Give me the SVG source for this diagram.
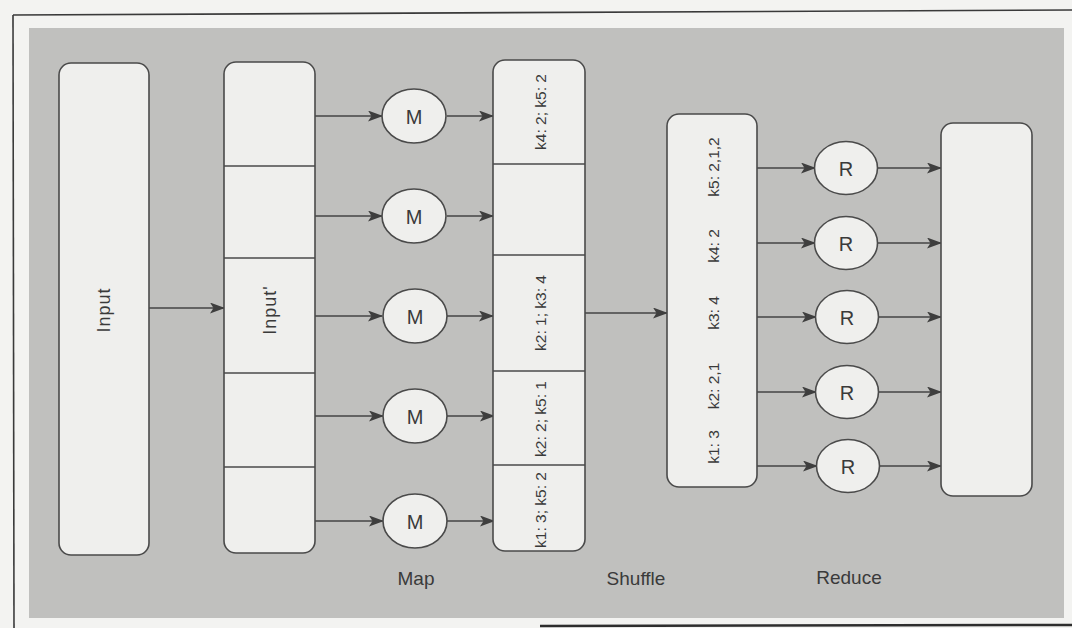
<svg xmlns="http://www.w3.org/2000/svg" width="1072" height="628" viewBox="0 0 1072 628">
  <defs>
    <marker id="ah" markerWidth="15" markerHeight="11" refX="14" refY="5.5" orient="auto" markerUnits="userSpaceOnUse">
      <path d="M0,0 L15,5.5 L0,11 L3.5,5.5 Z" fill="#3e3e3e"/>
    </marker>
    <style>
      .box { fill: #efefed; stroke: #4a4a4a; stroke-width: 1.6; }
      .div { stroke: #4a4a4a; stroke-width: 1.6; }
      .node { fill: #efefed; stroke: #4a4a4a; stroke-width: 1.6; }
      .edge { stroke: #454545; stroke-width: 1.6; fill: none; marker-end: url(#ah); }
      .lbl { font-family: "Liberation Sans", Arial, sans-serif; fill: #3a3a3a; text-anchor: middle; dominant-baseline: central; }
      .big { font-size: 18px; letter-spacing: 1px; }
      .kv { font-size: 15.5px; }
      .op { font-size: 20px; }
      .stage { font-family: "Liberation Sans", Arial, sans-serif; fill: #3a3a3a; text-anchor: middle; font-size: 19px; }
    </style>
  </defs>

  <!-- page and frame -->
  <rect x="0" y="0" width="1072" height="628" fill="#f3f3f1"/>
  <rect x="29" y="28" width="1035" height="590" fill="#c0c0be"/>
  <line x1="13" y1="15" x2="1072" y2="10" stroke="#3a3a3a" stroke-width="1.6"/>
  <line x1="13" y1="15" x2="14" y2="628" stroke="#3a3a3a" stroke-width="1.6"/>
  <line x1="540" y1="626" x2="1072" y2="625" stroke="#2e2e2e" stroke-width="2.5"/>

  <!-- connectors -->
  <g id="connectors">
    <line class="edge" x1="149" y1="308" x2="224" y2="308"/>
    <line class="edge" x1="315" y1="116" x2="382" y2="116"/>
    <line class="edge" x1="315" y1="216" x2="382" y2="216"/>
    <line class="edge" x1="315" y1="316" x2="382" y2="316"/>
    <line class="edge" x1="315" y1="416" x2="383" y2="416"/>
    <line class="edge" x1="315" y1="521" x2="383" y2="521"/>
    <line class="edge" x1="447" y1="116" x2="493" y2="116"/>
    <line class="edge" x1="447" y1="216" x2="493" y2="216"/>
    <line class="edge" x1="447" y1="316" x2="493" y2="316"/>
    <line class="edge" x1="447" y1="416" x2="494" y2="416"/>
    <line class="edge" x1="447" y1="521" x2="494" y2="521"/>
    <line class="edge" x1="585" y1="313" x2="667" y2="313"/>
    <line class="edge" x1="757" y1="168" x2="815" y2="168"/>
    <line class="edge" x1="757" y1="243" x2="815" y2="243"/>
    <line class="edge" x1="757" y1="317" x2="816" y2="317"/>
    <line class="edge" x1="757" y1="392" x2="816" y2="392"/>
    <line class="edge" x1="757" y1="466" x2="817" y2="466"/>
    <line class="edge" x1="878" y1="168" x2="941" y2="168"/>
    <line class="edge" x1="878" y1="243" x2="941" y2="243"/>
    <line class="edge" x1="879" y1="317" x2="941" y2="317"/>
    <line class="edge" x1="879" y1="392" x2="941" y2="392"/>
    <line class="edge" x1="880" y1="466" x2="941" y2="466"/>
  </g>

  <!-- raw input -->
  <g id="input">
    <rect class="box" x="59" y="63" width="90" height="492" rx="12"/>
    <text class="lbl big" transform="translate(104,310) rotate(-90)">Input</text>
  </g>

  <!-- split input -->
  <g id="input-split">
    <rect class="box" x="224" y="62" width="91" height="491" rx="12"/>
    <line class="div" x1="224" y1="166" x2="315" y2="166"/>
    <line class="div" x1="224" y1="258" x2="315" y2="258"/>
    <line class="div" x1="224" y1="373" x2="315" y2="373"/>
    <line class="div" x1="224" y1="467" x2="315" y2="467"/>
    <text class="lbl big" transform="translate(270,310) rotate(-90)">Input'</text>
  </g>

  <!-- mappers -->
  <g id="map-1"><ellipse class="node" cx="414" cy="116" rx="32" ry="27"/><text class="lbl op" x="414" y="117">M</text></g>
  <g id="map-2"><ellipse class="node" cx="414" cy="216" rx="32" ry="27"/><text class="lbl op" x="414" y="217">M</text></g>
  <g id="map-3"><ellipse class="node" cx="415" cy="316" rx="32" ry="27"/><text class="lbl op" x="415" y="317">M</text></g>
  <g id="map-4"><ellipse class="node" cx="415" cy="416" rx="32" ry="27"/><text class="lbl op" x="415" y="417">M</text></g>
  <g id="map-5"><ellipse class="node" cx="415" cy="521" rx="32" ry="27"/><text class="lbl op" x="415" y="522">M</text></g>

  <!-- map output -->
  <g id="map-output">
    <rect class="box" x="493" y="60" width="92" height="491" rx="12"/>
    <line class="div" x1="493" y1="164" x2="585" y2="164"/>
    <line class="div" x1="493" y1="255" x2="585" y2="255"/>
    <line class="div" x1="493" y1="371" x2="585" y2="371"/>
    <line class="div" x1="493" y1="465" x2="585" y2="465"/>
    <text class="lbl kv" transform="translate(540,112) rotate(-90)">k4: 2; k5: 2</text>
    <text class="lbl kv" transform="translate(540,313) rotate(-90)">k2: 1; k3: 4</text>
    <text class="lbl kv" transform="translate(540,419) rotate(-90)">k2: 2; k5: 1</text>
    <text class="lbl kv" transform="translate(540,510) rotate(-90)">k1: 3; k5: 2</text>
  </g>

  <!-- shuffled keys -->
  <g id="shuffle">
    <rect class="box" x="667" y="114" width="90" height="373" rx="12"/>
    <text class="lbl kv" transform="translate(713,167) rotate(-90)">k5: 2,1,2</text>
    <text class="lbl kv" transform="translate(713,246) rotate(-90)">k4: 2</text>
    <text class="lbl kv" transform="translate(713,313) rotate(-90)">k3: 4</text>
    <text class="lbl kv" transform="translate(713,386) rotate(-90)">k2: 2,1</text>
    <text class="lbl kv" transform="translate(713,447) rotate(-90)">k1: 3</text>
  </g>

  <!-- reducers -->
  <g id="reduce-1"><ellipse class="node" cx="846" cy="168" rx="31.5" ry="26.5"/><text class="lbl op" x="846" y="169">R</text></g>
  <g id="reduce-2"><ellipse class="node" cx="846" cy="243" rx="31.5" ry="26.5"/><text class="lbl op" x="846" y="244">R</text></g>
  <g id="reduce-3"><ellipse class="node" cx="847" cy="317" rx="31.5" ry="26.5"/><text class="lbl op" x="847" y="318">R</text></g>
  <g id="reduce-4"><ellipse class="node" cx="847" cy="392" rx="31.5" ry="26.5"/><text class="lbl op" x="847" y="393">R</text></g>
  <g id="reduce-5"><ellipse class="node" cx="848" cy="466" rx="31.5" ry="26.5"/><text class="lbl op" x="848" y="467">R</text></g>

  <!-- result -->
  <g id="output">
    <rect class="box" x="941" y="123" width="91" height="373" rx="12"/>
  </g>

  <!-- stage captions -->
  <g id="captions">
    <text class="stage" x="416" y="585">Map</text>
    <text class="stage" x="636" y="585">Shuffle</text>
    <text class="stage" x="849" y="584">Reduce</text>
  </g>
</svg>
